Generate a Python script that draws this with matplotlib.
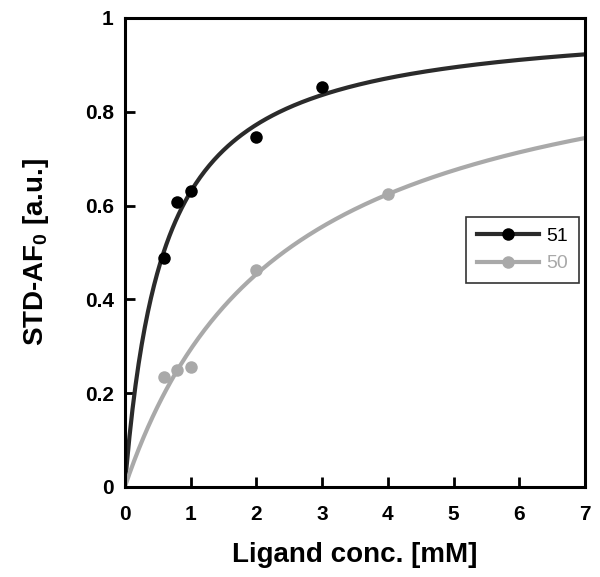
import numpy as np
import matplotlib
matplotlib.use("Agg")
import matplotlib.pyplot as plt

plt.rcParams['font.family'] = ['Liberation Sans', 'DejaVu Sans']
plt.rcParams['mathtext.fontset'] = 'custom'
plt.rcParams['mathtext.rm'] = 'Liberation Sans'
plt.rcParams['mathtext.it'] = 'Liberation Sans'
plt.rcParams['mathtext.bf'] = 'Liberation Sans:bold'

# Data
x51 = [0.6, 0.8, 1.0, 2.0, 3.0]
y51 = [0.488, 0.608, 0.631, 0.746, 0.853]
x50 = [0.6, 0.8, 1.0, 2.0, 4.0]
y50 = [0.235, 0.249, 0.256, 0.463, 0.625]

# One-site binding fit parameters (Bmax, Kd in mM)
fit51 = (1.0, 0.59)
fit50 = (1.0, 2.41)

labels = ['51', '50']
xticks = [0, 1, 2, 3, 4, 5, 6, 7]
yticks = [0, 0.2, 0.4, 0.6, 0.8, 1.0]
yticklabels = ['0', '0.2', '0.4', '0.6', '0.8', '1']

c51 = '#2b2b2b'
c50 = '#a9a9a9'

fig = plt.figure(figsize=(6.0, 5.77), dpi=100)
ax = fig.add_axes([0.208, 0.156, 0.767, 0.813])

xf = np.linspace(0, 7, 300)
for (bmax, kd), xs, ys, col, mcol, lab in [
        (fit51, x51, y51, c51, 'black', labels[0]),
        (fit50, x50, y50, c50, '#a9a9a9', labels[1])]:
    ax.plot(xf, bmax * xf / (kd + xf), color=col, lw=3, zorder=2)
    ax.plot(xs, ys, 'o', color=mcol, ms=9, mec='none', zorder=3)
    ax.plot([], [], '-o', color=col, mfc=mcol, mec='none', ms=9, lw=3, label=lab)

ax.set_xlim(0, 7)
ax.set_ylim(0, 1)
ax.set_xticks(xticks)
ax.set_xticklabels([str(t) for t in xticks])
ax.set_yticks(yticks)
ax.set_yticklabels(yticklabels)
ax.tick_params(direction='in', length=7, width=2, labelsize=15)
ax.tick_params(axis='x', pad=13)
ax.tick_params(axis='y', pad=8)
for lbl in ax.get_xticklabels() + ax.get_yticklabels():
    lbl.set_fontweight('bold')
for s in ax.spines.values():
    s.set_linewidth(2.2)

ax.set_xlabel('Ligand conc. [mM]', fontsize=20, fontweight='bold', labelpad=13)
ax.set_ylabel(r'STD-AF$_{\mathregular{0}}$ [a.u.]', fontsize=20, fontweight='bold', labelpad=24)

leg = ax.legend(loc='upper left', bbox_to_anchor=(0.741, 0.576), borderaxespad=0,
                fontsize=14, frameon=True, fancybox=False, handlelength=3.2,
                borderpad=0.55, handletextpad=0.4)
leg.get_frame().set_edgecolor('black')
leg.get_frame().set_linewidth(1.2)
leg.get_texts()[0].set_color('black')
leg.get_texts()[1].set_color('#a9a9a9')

fig.savefig('out.png', dpi=100)
